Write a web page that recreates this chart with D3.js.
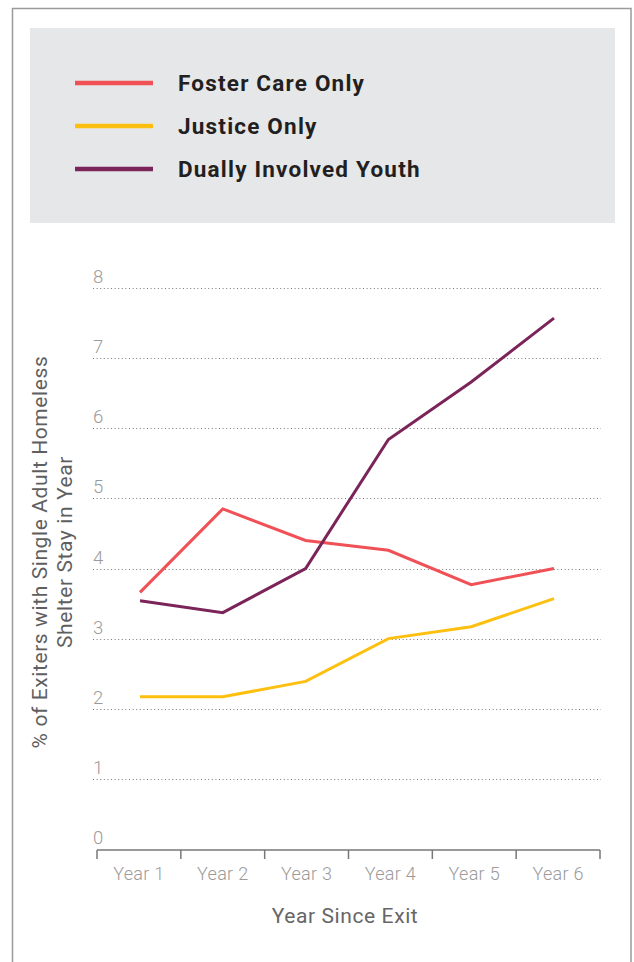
<!DOCTYPE html>
<html><head><meta charset="utf-8">
<script src="https://cdn.jsdelivr.net/npm/d3@7"></script>
<style>
html,body{margin:0;padding:0;background:#fff;}
svg{display:block;}
</style></head>
<body>
<script>
const years = ["Year 1","Year 2","Year 3","Year 4","Year 5","Year 6"];
const fosterCare = [3.66, 4.85, 4.40, 4.26, 3.77, 4.00];
const justice = [2.17, 2.17, 2.39, 3.00, 3.17, 3.57];
const dual = [3.54, 3.37, 4.00, 5.84, 6.66, 7.57];
const seriesNames = ["Foster Care Only","Justice Only","Dually Involved Youth"];
const seriesColors = ["#f05156","#fdc010","#7b2459"];
const yTicks = [0,1,2,3,4,5,6,7,8];
const yTitle = ["% of Exiters with Single Adult Homeless","Shelter Stay in Year"];
const xTitle = "Year Since Exit";

const W = 634, H = 962;
const svg = d3.select("body").append("svg").attr("width", W).attr("height", H);

// outer border
svg.append("rect").attr("x",12.5).attr("y",8.5).attr("width",618.5).attr("height",970)
  .attr("fill","none").attr("stroke","#9a9a9a").attr("stroke-width",1.5);

// legend box
svg.append("rect").attr("x",30).attr("y",28).attr("width",585).attr("height",195).attr("fill","#e6e7e8");
const legendY = d3.scalePoint().domain(seriesNames).range([83,169]);
const lg = svg.append("g");
seriesNames.forEach((n,i)=>{
  lg.append("line").attr("x1",75).attr("x2",153).attr("y1",legendY(n)).attr("y2",legendY(n))
    .attr("stroke",seriesColors[i]).attr("stroke-width",4.5);
  lg.append("text").attr("x",178).attr("y",legendY(n)).attr("dy","0.36em")
    .attr("font-family","Roboto, 'Liberation Sans', sans-serif").attr("font-weight","bold")
    .attr("font-size",22.5).attr("letter-spacing","1.2px").attr("fill","#231f20").text(n);
});

// scales
const y = d3.scaleLinear().domain([0,8]).range([849,288]);
const xBand = d3.scaleBand().domain(years).range([97,600]);
const x = d3.scalePoint().domain(years).range([140,554]);

// gridlines
const grid = svg.append("g");
yTicks.filter(t=>t>0).forEach(t=>{
  grid.append("line").attr("x1",93).attr("x2",601).attr("y1",Math.round(y(t))+0.5).attr("y2",Math.round(y(t))+0.5)
    .attr("stroke","#7a7a7a").attr("stroke-width",1).attr("stroke-dasharray","1,2.6");
});
// y tick labels
yTicks.forEach(t=>{
  grid.append("text").attr("x",93).attr("y",y(t)-5)
    .attr("font-family","Roboto, sans-serif").attr("font-weight",300)
    .attr("font-size",18.5).attr("fill","#9b9b9b").text(t);
});

// x axis
const xAxis = svg.append("g").attr("transform","translate(0,850)")
  .call(d3.axisBottom(xBand).tickSize(0).tickPadding(17));
xAxis.select(".domain").attr("stroke","#777").attr("stroke-width",1.5).attr("d","M97,0H600");
xAxis.selectAll("text").attr("font-family","Roboto, sans-serif").attr("font-weight",300)
  .attr("font-size",18).attr("letter-spacing","0.3px").attr("fill","#9b9b9b");
const bounds = [97, ...years.map(d=>xBand(d)+xBand.bandwidth())];
xAxis.selectAll("line.sep").data(bounds).join("line").attr("class","sep")
  .attr("x1",d=>d).attr("x2",d=>d).attr("y1",0).attr("y2",9)
  .attr("stroke","#777").attr("stroke-width",1.5);

// x title
svg.append("text").attr("x",345).attr("y",923).attr("text-anchor","middle")
  .attr("font-family","Roboto, sans-serif").attr("font-size",21).attr("letter-spacing","0.6px")
  .attr("fill","#666").text(xTitle);

// y title
const yt = svg.append("text").attr("transform","translate(0,552) rotate(-90)")
  .attr("text-anchor","middle").attr("font-family","Roboto, sans-serif")
  .attr("font-size",21).attr("letter-spacing","0.6px").attr("fill","#5f5f5f");
yt.append("tspan").attr("x",0).attr("y",47).text(yTitle[0]);
yt.append("tspan").attr("x",0).attr("y",72).text(yTitle[1]);

// lines
const line = d3.line().x((d,i)=>x(years[i])).y(d=>y(d));
[fosterCare, justice, dual].forEach((s,i)=>{
  svg.append("path").datum(s).attr("d",line).attr("fill","none")
    .attr("stroke",seriesColors[i]).attr("stroke-width",3);
});
</script>
</body></html>
